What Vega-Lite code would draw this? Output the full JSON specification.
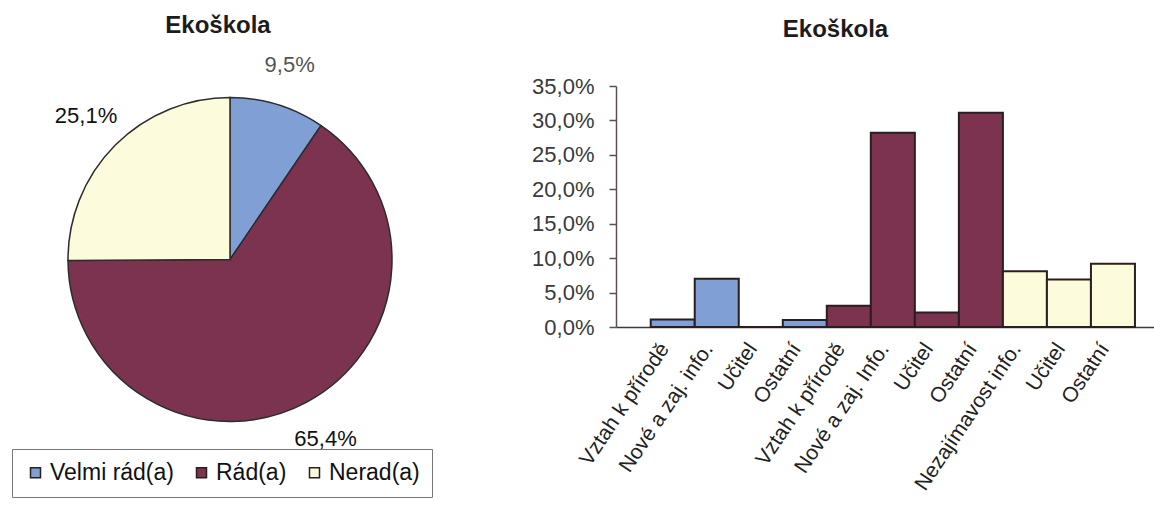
{
  "$schema": "https://vega.github.io/schema/vega-lite/v6.json",
  "background": "white",
  "padding": {"left": 0, "top": 14, "right": 0, "bottom": 0},
  "spacing": 71,
  "config": {
    "font": "Liberation Sans",
    "view": {"stroke": null},
    "title": {"fontSize": 24, "fontWeight": "bold", "color": "#1c1c1c", "font": "Liberation Sans", "anchor": "middle", "frame": "group"}
  },
  "datasets": {
    "shares": [
      {"idx": 1, "rating": "Velmi rád(a)", "share": 9.5, "label": "9,5%"},
      {"idx": 2, "rating": "Rád(a)", "share": 65.4, "label": "65,4%"},
      {"idx": 3, "rating": "Nerad(a)", "share": 25.1, "label": "25,1%"}
    ],
    "reasons": [
      {"key": "Velmi rád(a)|Vztah k přírodě", "rating": "Velmi rád(a)", "pct": 1.1},
      {"key": "Velmi rád(a)|Nové a zaj. info.", "rating": "Velmi rád(a)", "pct": 7.0},
      {"key": "Velmi rád(a)|Učitel", "rating": "Velmi rád(a)", "pct": 0},
      {"key": "Velmi rád(a)|Ostatní", "rating": "Velmi rád(a)", "pct": 1.0},
      {"key": "Rád(a)|Vztah k přírodě", "rating": "Rád(a)", "pct": 3.1},
      {"key": "Rád(a)|Nové a zaj. Info.", "rating": "Rád(a)", "pct": 28.2},
      {"key": "Rád(a)|Učitel", "rating": "Rád(a)", "pct": 2.1},
      {"key": "Rád(a)|Ostatní", "rating": "Rád(a)", "pct": 31.1},
      {"key": "Nerad(a)|Nezajímavost info.", "rating": "Nerad(a)", "pct": 8.1},
      {"key": "Nerad(a)|Učitel", "rating": "Nerad(a)", "pct": 6.9},
      {"key": "Nerad(a)|Ostatní", "rating": "Nerad(a)", "pct": 9.2}
    ]
  },
  "hconcat": [
    {
      "width": 460,
      "height": 347,
      "title": {"text": "Ekoškola", "offset": 16, "dx": -12},
      "data": {"name": "shares"},
      "encoding": {
        "theta": {"field": "share", "type": "quantitative", "stack": true},
        "order": {"field": "idx", "type": "quantitative"},
        "color": {
          "field": "rating",
          "type": "nominal",
          "scale": {
            "domain": ["Velmi rád(a)", "Rád(a)", "Nerad(a)"],
            "range": ["#809fd4", "#7c3350", "#fcfcdd"]
          },
          "legend": {
            "orient": "none",
            "legendX": 12,
            "legendY": 363,
            "direction": "horizontal",
            "title": null,
            "symbolType": "square",
            "symbolSize": 100,
            "symbolStrokeColor": "#111111",
            "symbolStrokeWidth": 1.5,
            "symbolOpacity": 1,
            "labelFont": "Liberation Sans",
            "labelFontSize": 23,
            "labelColor": "#111111",
            "labelOffset": 3,
            "columnPadding": 16,
            "padding": 12,
            "strokeColor": "#777777",
            "fillColor": "white"
          }
        }
      },
      "layer": [
        {"mark": {"type": "arc", "radius": 162, "stroke": "#2d2d2d", "strokeWidth": 1.5}},
        {
          "mark": {"type": "text", "radius": 203, "fontSize": 22, "font": "Liberation Sans"},
          "encoding": {
            "text": {"field": "label", "type": "nominal"},
            "color": {"condition": {"test": "datum.idx === 1", "value": "#555555"}, "value": "#111111"}
          }
        }
      ]
    },
    {
      "width": 539,
      "height": 241,
      "title": {"text": "Ekoškola", "offset": 33, "dx": -50},
      "data": {"name": "reasons"},
      "mark": {"type": "bar", "stroke": "#2a1e1e", "strokeWidth": 2},
      "encoding": {
        "x": {
          "field": "key",
          "type": "nominal",
          "sort": null,
          "scale": {"paddingInner": 0, "paddingOuter": 0.622, "align": 0.634},
          "axis": {
            "title": null,
            "labelExpr": "split(datum.label, '|')[1]",
            "labelAngle": -56,
            "ticks": false,
            "tickSize": 0,
            "labelPadding": 18,
            "labelOffset": -8,
            "labelFontSize": 21,
            "labelColor": "#222222",
            "labelOverlap": false,
            "labelBound": false,
            "labelLimit": 400,
            "domainColor": "#3a3a3a",
            "domainWidth": 1.5
          }
        },
        "y": {
          "field": "pct",
          "type": "quantitative",
          "scale": {"domain": [0, 35]},
          "axis": {
            "title": null,
            "values": [0, 5, 10, 15, 20, 25, 30, 35],
            "labelExpr": "replace(format(datum.value, '.1f'), '.', ',') + '%'",
            "grid": false,
            "domainColor": "#5a5050",
            "domainWidth": 1.5,
            "tickColor": "#5a5050",
            "tickWidth": 1.5,
            "tickSize": 7,
            "labelPadding": 15,
            "labelFontSize": 22,
            "labelColor": "#3a3a3a"
          }
        },
        "color": {"field": "rating", "type": "nominal"}
      }
    }
  ]
}
